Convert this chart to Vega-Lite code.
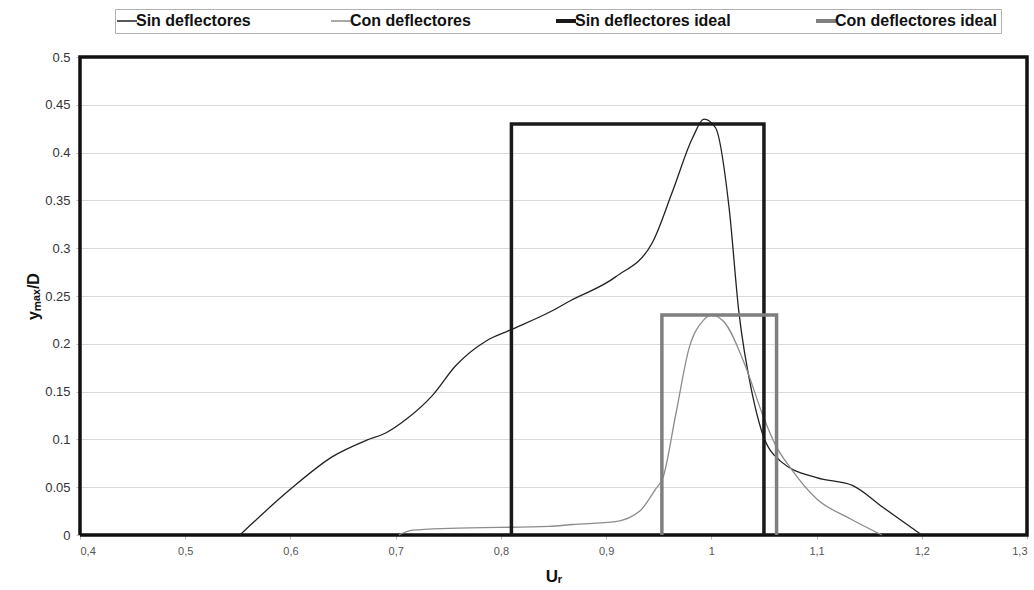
{
  "$schema": "https://vega.github.io/schema/vega-lite/v6.json",
  "width": 947,
  "height": 478,
  "autosize": {"type": "none"},
  "padding": {"left": 80, "top": 57, "right": 7, "bottom": 55},
  "background": "white",
  "config": {
    "font": "Liberation Sans",
    "view": {"stroke": null}
  },
  "datasets": {
    "curves": [
      {"series": "Sin deflectores", "x": 0.552, "y": 0},
      {"series": "Sin deflectores", "x": 0.599, "y": 0.047},
      {"series": "Sin deflectores", "x": 0.64, "y": 0.082},
      {"series": "Sin deflectores", "x": 0.672, "y": 0.099},
      {"series": "Sin deflectores", "x": 0.691, "y": 0.107},
      {"series": "Sin deflectores", "x": 0.71, "y": 0.121},
      {"series": "Sin deflectores", "x": 0.735, "y": 0.146},
      {"series": "Sin deflectores", "x": 0.757, "y": 0.177},
      {"series": "Sin deflectores", "x": 0.786, "y": 0.203},
      {"series": "Sin deflectores", "x": 0.808, "y": 0.214},
      {"series": "Sin deflectores", "x": 0.846, "y": 0.233},
      {"series": "Sin deflectores", "x": 0.866, "y": 0.245},
      {"series": "Sin deflectores", "x": 0.909, "y": 0.270},
      {"series": "Sin deflectores", "x": 0.944, "y": 0.306},
      {"series": "Sin deflectores", "x": 0.963, "y": 0.359},
      {"series": "Sin deflectores", "x": 0.982, "y": 0.415},
      {"series": "Sin deflectores", "x": 0.993, "y": 0.435},
      {"series": "Sin deflectores", "x": 1.004, "y": 0.426},
      {"series": "Sin deflectores", "x": 1.017, "y": 0.341},
      {"series": "Sin deflectores", "x": 1.026, "y": 0.235},
      {"series": "Sin deflectores", "x": 1.039, "y": 0.147},
      {"series": "Sin deflectores", "x": 1.048, "y": 0.108},
      {"series": "Sin deflectores", "x": 1.066, "y": 0.077},
      {"series": "Sin deflectores", "x": 1.1, "y": 0.06},
      {"series": "Sin deflectores", "x": 1.134, "y": 0.052},
      {"series": "Sin deflectores", "x": 1.163, "y": 0.029},
      {"series": "Sin deflectores", "x": 1.2, "y": 0},
      {"series": "Con deflectores", "x": 0.703, "y": 0},
      {"series": "Con deflectores", "x": 0.716, "y": 0.005},
      {"series": "Con deflectores", "x": 0.751, "y": 0.007},
      {"series": "Con deflectores", "x": 0.846, "y": 0.009},
      {"series": "Con deflectores", "x": 0.868, "y": 0.011},
      {"series": "Con deflectores", "x": 0.909, "y": 0.014},
      {"series": "Con deflectores", "x": 0.932, "y": 0.025},
      {"series": "Con deflectores", "x": 0.947, "y": 0.048},
      {"series": "Con deflectores", "x": 0.954, "y": 0.06},
      {"series": "Con deflectores", "x": 0.966, "y": 0.125},
      {"series": "Con deflectores", "x": 0.979, "y": 0.196},
      {"series": "Con deflectores", "x": 0.992, "y": 0.224},
      {"series": "Con deflectores", "x": 1.0, "y": 0.23},
      {"series": "Con deflectores", "x": 1.012, "y": 0.223},
      {"series": "Con deflectores", "x": 1.033, "y": 0.175},
      {"series": "Con deflectores", "x": 1.049, "y": 0.125},
      {"series": "Con deflectores", "x": 1.061, "y": 0.094},
      {"series": "Con deflectores", "x": 1.076, "y": 0.069},
      {"series": "Con deflectores", "x": 1.1, "y": 0.038},
      {"series": "Con deflectores", "x": 1.132, "y": 0.017},
      {"series": "Con deflectores", "x": 1.162, "y": 0}
    ],
    "ideal": [
      {"series": "Sin deflectores ideal", "o": 1, "x": 0.81, "y": 0},
      {"series": "Sin deflectores ideal", "o": 2, "x": 0.81, "y": 0.43},
      {"series": "Sin deflectores ideal", "o": 3, "x": 1.05, "y": 0.43},
      {"series": "Sin deflectores ideal", "o": 4, "x": 1.05, "y": 0},
      {"series": "Con deflectores ideal", "o": 1, "x": 0.953, "y": 0},
      {"series": "Con deflectores ideal", "o": 2, "x": 0.953, "y": 0.23},
      {"series": "Con deflectores ideal", "o": 3, "x": 1.062, "y": 0.23},
      {"series": "Con deflectores ideal", "o": 4, "x": 1.062, "y": 0}
    ],
    "frame": [
      {"o": 1, "x": 0.4, "y": 0},
      {"o": 2, "x": 0.4, "y": 0.5},
      {"o": 3, "x": 1.3, "y": 0.5},
      {"o": 4, "x": 1.3, "y": 0},
      {"o": 5, "x": 0.4, "y": 0}
    ]
  },
  "encoding": {
    "x": {
      "field": "x", "type": "quantitative",
      "scale": {"domain": [0.4, 1.3], "nice": false, "zero": false},
      "axis": {
        "values": [0.4, 0.5, 0.6, 0.7, 0.8, 0.9, 1, 1.1, 1.2, 1.3],
        "labelExpr": "replace(format(datum.value, '~g'), '.', ',')",
        "grid": false, "domain": false, "ticks": true, "tickSize": 4, "tickColor": "#bbbbbb",
        "labelFontSize": 11, "labelColor": "#555555",
        "labelPadding": 6,
        "title": "Uᵣ", "titleFontSize": 17, "titleFontWeight": "bold", "titleColor": "#111111",
        "titlePadding": 12
      }
    },
    "y": {
      "field": "y", "type": "quantitative",
      "scale": {"domain": [0, 0.5], "nice": false},
      "axis": {
        "values": [0, 0.05, 0.1, 0.15, 0.2, 0.25, 0.3, 0.35, 0.4, 0.45, 0.5],
        "format": "~g",
        "grid": true, "gridColor": "#d9d9d9", "gridWidth": 1.2,
        "domain": false, "ticks": true, "tickSize": 4, "tickColor": "#bbbbbb",
        "labelFontSize": 13, "labelColor": "#333333", "labelPadding": 6,
        "title": "yₘₐₓ/D", "titleFontSize": 16, "titleFontWeight": "bold", "titleColor": "#111111",
        "titlePadding": 3
      }
    }
  },
  "layer": [
    {
      "data": {"name": "frame"},
      "mark": {"type": "line", "color": "#111111", "strokeWidth": 3.5, "strokeJoin": "miter", "interpolate": "linear"},
      "encoding": {"order": {"field": "o", "type": "quantitative"}}
    },
    {
      "data": {"name": "curves"},
      "mark": {"type": "line", "interpolate": "monotone", "strokeWidth": 1.3},
      "encoding": {
        "color": {
          "field": "series", "type": "nominal",
          "scale": {
            "domain": ["Sin deflectores", "Con deflectores", "Sin deflectores ideal", "Con deflectores ideal"],
            "range": ["#222222", "#8c8c8c", "#1a1a1a", "#7f7f7f"]
          },
          "legend": {
            "title": null,
            "orient": "none", "legendX": 35, "legendY": -48,
            "direction": "horizontal",
            "symbolType": "stroke", "symbolSize": 400,
            "labelFontSize": 16, "labelFontWeight": "bold", "labelColor": "#111111",
            "labelLimit": 400,
            "columnPadding": 77, "labelOffset": 1,
            "strokeColor": "#b0b0b0", "padding": 4, "fillColor": "white",
            "encode": {
              "symbols": {
                "update": {
                  "strokeWidth": {"signal": "datum.index >= 2 ? 4 : 1.5"}
                }
              }
            }
          }
        }
      }
    },
    {
      "data": {"name": "ideal"},
      "mark": {"type": "line", "interpolate": "linear", "strokeWidth": 3.5},
      "encoding": {
        "order": {"field": "o", "type": "quantitative"},
        "color": {"field": "series", "type": "nominal"}
      }
    }
  ]
}
